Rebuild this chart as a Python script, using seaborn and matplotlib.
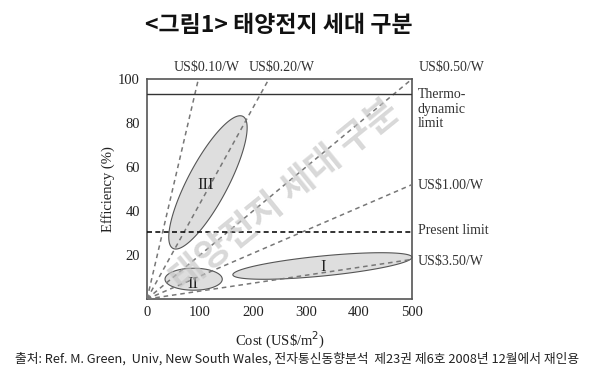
import numpy as np
import pandas as pd
import matplotlib
matplotlib.use('Agg')
import matplotlib.pyplot as plt
import seaborn as sns

# price-per-watt lines, drawn from the origin to these end points
price_labels = ['US$0.10/W', 'US$0.20/W', 'US$0.50/W', 'US$1.00/W', 'US$3.50/W']
price_end_cost = [97, 230, 500, 500, 500]
price_end_eff = [100, 100, 100, 52, 18]

thermo_limit = 93
present_limit = 30.5

# generation ellipses: major-axis end points (cost, eff) and minor axis width in px
gen_names = ['III', 'II', 'I']
gen_p1_cost = [49, 34, 162]
gen_p1_eff = [23, 9, 11]
gen_p2_cost = [181, 142, 500]
gen_p2_eff = [83, 9, 19]
gen_minor_px = [40, 22, 20]
gen_label_cost = [110, 86, 333]
gen_label_eff = [52, 7, 14.5]

x_ticks = [0, 100, 200, 300, 400, 500]
y_ticks = [20, 40, 60, 80, 100]

sns.set_theme(style='white')
plt.rcParams['font.family'] = ['Noto Sans CJK KR', 'DejaVu Sans']
serif = ['Liberation Serif', 'DejaVu Serif']

fig = plt.figure(figsize=(5.96, 3.88), dpi=100)
ax = fig.add_axes([147 / 596, 1 - 299 / 388, 265 / 596, 220 / 388])
ax.set_xlim(0, 500)
ax.set_ylim(0, 100)

# px per unit, used to keep ellipses round in screen space
sx = 265 / 500
sy = 220 / 100

# ellipses
for i in range(len(gen_names)):
    u1, v1 = gen_p1_cost[i] * sx, gen_p1_eff[i] * sy
    u2, v2 = gen_p2_cost[i] * sx, gen_p2_eff[i] * sy
    cu, cv = (u1 + u2) / 2, (v1 + v2) / 2
    a = np.hypot(u2 - u1, v2 - v1) / 2
    b = gen_minor_px[i] / 2
    th = np.arctan2(v2 - v1, u2 - u1)
    t = np.linspace(0, 2 * np.pi, 200)
    pu = cu + a * np.cos(t) * np.cos(th) - b * np.sin(t) * np.sin(th)
    pv = cv + a * np.cos(t) * np.sin(th) + b * np.sin(t) * np.cos(th)
    ax.fill(pu / sx, pv / sy, facecolor='#dedede', edgecolor='#555555',
            lw=0.8, zorder=2, clip_on=False)
    ax.text(gen_label_cost[i], gen_label_eff[i], gen_names[i], family=serif,
            fontsize=12, ha='center', va='center', color='#222222', zorder=4)

# price lines
rows = []
for lab, c, e in zip(price_labels, price_end_cost, price_end_eff):
    rows.append({'price': lab, 'cost': 0, 'eff': 0})
    rows.append({'price': lab, 'cost': c, 'eff': e})
df = pd.DataFrame(rows)
sns.lineplot(data=df, x='cost', y='eff', units='price', estimator=None,
             color='#777777', lw=1.1, linestyle=(0, (3, 2.5)), ax=ax, zorder=3)

ax.axhline(thermo_limit, color='#333333', lw=1.0, zorder=3)
ax.axhline(present_limit, color='#111111', lw=1.2, linestyle=(0, (3, 2)), zorder=3)

for s in ax.spines.values():
    s.set_color('#555555')
    s.set_linewidth(1.2)

ax.set_xticks(x_ticks)
ax.set_yticks(y_ticks)
ax.set_xticklabels([str(v) for v in x_ticks], family=serif, fontsize=10.5, color='#222222')
ax.set_yticklabels([str(v) for v in y_ticks], family=serif, fontsize=10.5, color='#222222')
ax.tick_params(length=0, pad=5)
ax.set_ylabel('Efficiency (%)', family=serif, fontsize=10.5, color='#222222', labelpad=2)
ax.set_xlabel('')
fig.text(280 / 596, 1 - 340 / 388, 'Cost (US\\$/m$^2$)', family=serif, fontsize=10.5,
         color='#222222', ha='center', va='center')


def fx(px):
    return px / 596


def fy(py):
    return 1 - py / 388


# right side and top labels
top_x = [207, 282, 452]
for lab, xp in zip(price_labels[:3], top_x):
    fig.text(fx(xp), fy(68), lab, family=serif, fontsize=10, color='#333333',
             ha='center', va='center')
fig.text(fx(418), fy(185), price_labels[3], family=serif, fontsize=10, color='#333333', va='center')
fig.text(fx(418), fy(262), price_labels[4], family=serif, fontsize=10, color='#333333', va='center')
fig.text(fx(418), fy(231), 'Present limit', family=serif, fontsize=10, color='#333333', va='center')
fig.text(fx(418), fy(109), 'Thermo-\ndynamic\nlimit', family=serif, fontsize=10,
         color='#333333', va='center', linespacing=1.15)

# watermark
fig.text(fx(285), fy(196), '태양전지 세대 구분', fontsize=26, fontweight='bold',
         color='#c4c4c4', alpha=0.65, rotation=39, ha='center', va='center', zorder=5)

fig.text(fx(279), fy(25), '<그림1> 태양전지 세대 구분', fontsize=16.5, fontweight='bold',
         color='#111111', ha='center', va='center')
fig.text(fx(297), fy(359),
         '출처: Ref. M. Green,  Univ, New South Wales, 전자통신동향분석  제23권 제6호 2008년 12월에서 재인용',
         fontsize=9.2, color='#222222', ha='center', va='center')

fig.savefig('out.png', dpi=100)
